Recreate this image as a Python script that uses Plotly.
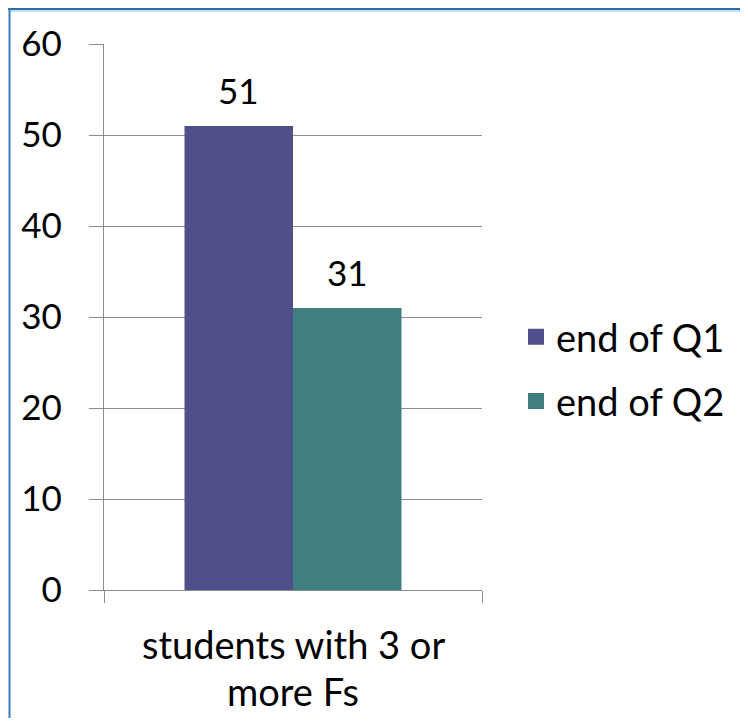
import plotly.graph_objects as go

categories = ["students with 3 or<br>more Fs"]
series_names = ["end of Q1", "end of Q2"]
q1_values = [51]
q2_values = [31]
colors = ["#4F5089", "#3F7F7F"]

OFF = 8                      # page body margin
W, H = 740, 710
L, R, T, B = 96, 266, 36, 128
PW, PH = W - L - R, H - T - B
FONT = "Lato"
FS = 38
FS_NUM = 35
GRID = "#8C8C8C"
BARGAP = 0.426


def px_x(px):
    return (px - OFF - L) / PW


def px_y(py):
    return (H - B - (py - OFF)) / PH


fig = go.Figure()
for name, vals, col in zip(series_names, [q1_values, q2_values], colors):
    fig.add_trace(go.Bar(
        x=categories, y=vals, name=name, marker_color=col,
        marker_line_width=0, showlegend=False,
    ))
    # legend proxy with a larger square swatch
    fig.add_trace(go.Scatter(
        x=[None], y=[None], mode="markers", name=name, legendgroup=name,
        marker=dict(symbol="square", size=22, color=col, line_width=0),
    ))

# data labels above bars
group_w = (1 - BARGAP) * PW
for i, vals in enumerate([q1_values, q2_values]):
    shift = (i - 0.5) * group_w / 2
    for c, v in zip(categories, vals):
        fig.add_annotation(x=c, y=v, xref="x", yref="y", text=str(v),
                           showarrow=False, xshift=shift, yanchor="bottom",
                           yshift=13, font=dict(family=FONT, size=FS_NUM, color="black"))

# category label lines
for c in categories:
    for j, line in enumerate(c.split("<br>")):
        fig.add_annotation(x=c, xref="x", yref="paper", y=px_y(644 + 47 * j),
                           text=line, showarrow=False, yanchor="middle",
                           font=dict(family=FONT, size=FS, color="black"))

# frame decoration
shapes = [
    dict(type="line", xref="paper", yref="paper",
         x0=px_x(8), x1=px_x(OFF + W), y0=px_y(9), y1=px_y(9),
         line=dict(color="#2E6DA4", width=2)),
    dict(type="line", xref="paper", yref="paper",
         x0=px_x(10), x1=px_x(OFF + W), y0=px_y(11), y1=px_y(11),
         line=dict(color="#BFE3F5", width=2)),
    dict(type="line", xref="paper", yref="paper",
         x0=px_x(9.5), x1=px_x(9.5), y0=px_y(8), y1=px_y(OFF + H),
         line=dict(color="#3A7DB8", width=2)),
]

fig.update_layout(
    width=W, height=H,
    margin=dict(l=L, r=R, t=T, b=B, autoexpand=False),
    paper_bgcolor="white", plot_bgcolor="white",
    barmode="group", bargap=BARGAP, bargroupgap=0,
    font=dict(family=FONT, size=FS, color="black"),
    showlegend=True,
    legend=dict(x=px_x(516), y=px_y(369), xanchor="left", yanchor="middle",
                font=dict(family=FONT, size=FS, color="black"),
                tracegroupgap=12, bgcolor="rgba(0,0,0,0)",
                itemsizing="trace"),
    shapes=shapes,
    xaxis=dict(type="category", range=[-0.5, 0.5], showline=True,
               linecolor=GRID, linewidth=1.3, ticks="outside",
               tickson="boundaries", ticklen=12, tickcolor=GRID,
               tickwidth=1.3, showticklabels=False, showgrid=False,
               fixedrange=True),
    yaxis=dict(range=[0, 60], dtick=10, showline=True, linecolor=GRID,
               linewidth=1.3, ticks="outside", ticklen=14, tickcolor=GRID,
               tickwidth=1.3, showgrid=True, gridcolor=GRID, gridwidth=1.3,
               zeroline=False, ticklabelstandoff=20,
               tickfont=dict(family=FONT, size=FS_NUM, color="black")),
)

fig.write_html("out.html")
